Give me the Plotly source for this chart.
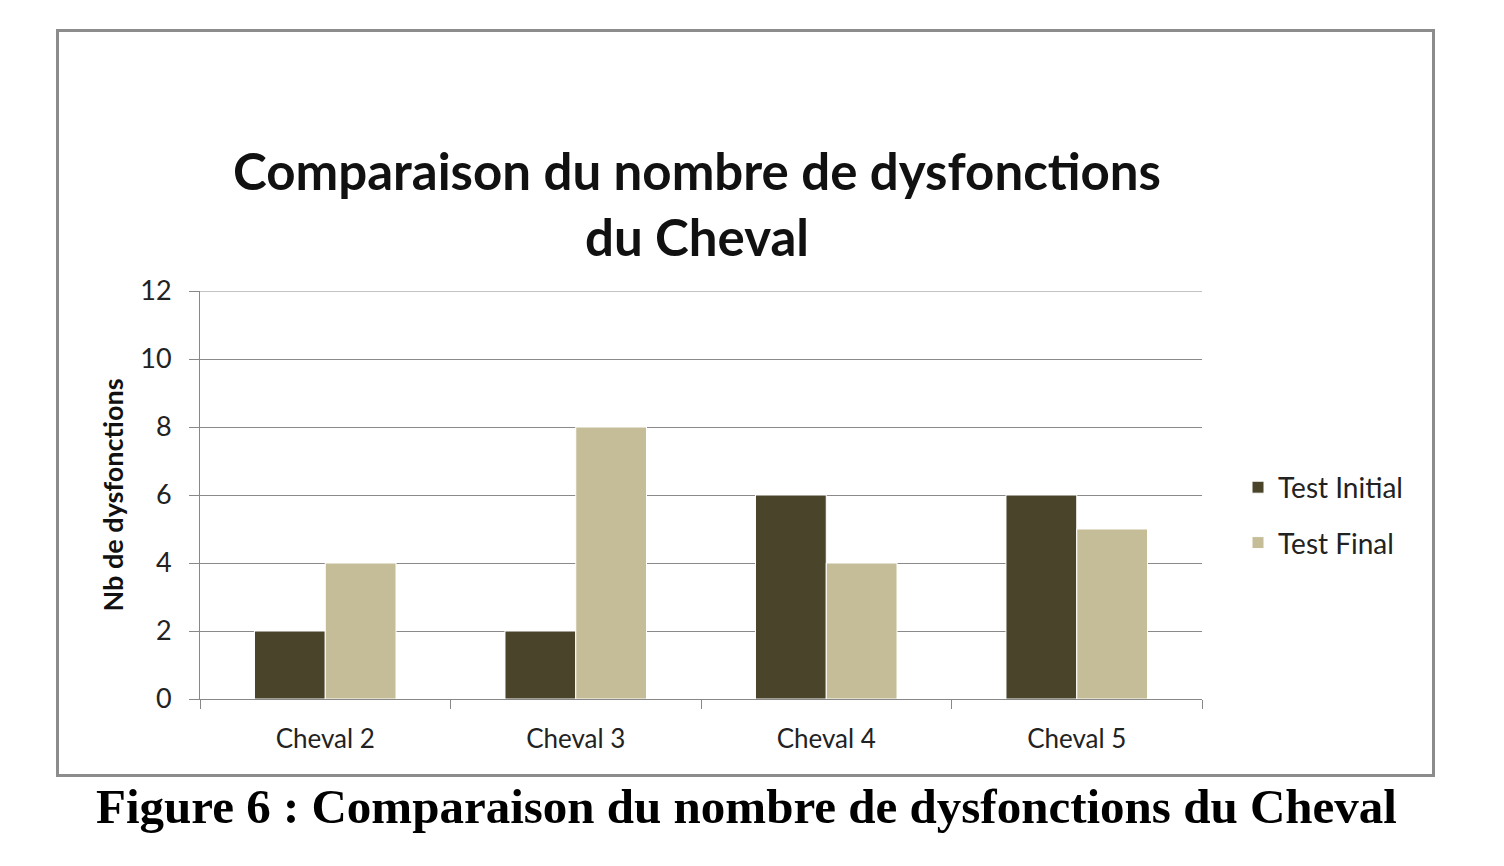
import plotly.graph_objects as go

categories = ["Cheval 2", "Cheval 3", "Cheval 4", "Cheval 5"]
test_initial = [2, 2, 6, 6]
test_final = [4, 8, 4, 5]
y_ticks = [0, 2, 4, 6, 8, 10, 12]

FONT = "Lato, 'Open Sans', sans-serif"

# plot area in page pixels: x 200..1202, y 291..699 (page has 8px body margin)
L, R, T, B = 192, 310, 283, 175
PW, PH = 1002, 408

def px(xp):  # page x -> paper
    return (xp - 200) / PW

def py(yp):  # page y -> paper
    return (699 - yp) / PH

fig = go.Figure()
fig.add_trace(go.Bar(name="Test Initial", x=categories, y=test_initial, legendgroup="a",
                     marker=dict(color="#4a442a", line=dict(color="white", width=1))))
fig.add_trace(go.Bar(name="Test Final", x=categories, y=test_final, legendgroup="b",
                     marker=dict(color="#c4bd97", line=dict(color="white", width=1))))

fig.update_layout(
    width=1504, height=866,
    paper_bgcolor="white", plot_bgcolor="white",
    margin=dict(l=L, r=R, t=T, b=B),
    barmode="group", bargap=0.435, bargroupgap=0.0,
    font=dict(family=FONT, color="#222", size=26),
    legend=dict(x=px(1238), y=py(515), xanchor="left", yanchor="middle",
                font=dict(size=28, color="#222"),
                tracegroupgap=16, bgcolor="rgba(0,0,0,0)"),
    xaxis=dict(showline=True, linecolor="#888", linewidth=1,
               ticks="outside", tickson="boundaries", ticklen=9, tickcolor="#888",
               ticklabelstandoff=17,
               tickfont=dict(size=26, color="#222"), showgrid=False),
    yaxis=dict(range=[0, 12], tickvals=y_ticks, showline=True, linecolor="#888", linewidth=1,
               ticks="outside", ticklen=10, tickcolor="#888", gridcolor="#8a8a8a", gridwidth=1,
               ticklabelstandoff=12,
               tickfont=dict(size=27, color="#222"), zeroline=False,
               title=dict(text="<b>Nb de dysfonctions</b>", font=dict(size=27, color="#111"), standoff=8)),
    shapes=[
        dict(type="rect", xref="paper", yref="paper", layer="below",
             x0=px(57.5), x1=px(1433.5), y0=py(775.5), y1=py(30.5),
             line=dict(color="#8c8c8c", width=3), fillcolor="rgba(0,0,0,0)"),
        dict(type="line", xref="paper", yref="y", layer="below",
             x0=0, x1=1, y0=y_ticks[-1], y1=y_ticks[-1],
             line=dict(color="#8a8a8a", width=1)),
    ],
    annotations=[
        dict(text="<b>Comparaison du nombre de dysfonctions<br>du Cheval</b>",
             xref="paper", yref="paper", x=px(697), y=py(203),
             xanchor="center", yanchor="middle", showarrow=False, align="center",
             font=dict(family=FONT, size=51, color="#111")),
        dict(text="<b>Figure 6 : Comparaison du nombre de dysfonctions du Cheval</b>",
             xref="paper", yref="paper", x=px(746), y=py(806),
             xanchor="center", yanchor="middle", showarrow=False,
             font=dict(family="'Liberation Serif', 'Times New Roman', serif", size=49, color="#000")),
    ],
)

fig.write_html("out.html")
